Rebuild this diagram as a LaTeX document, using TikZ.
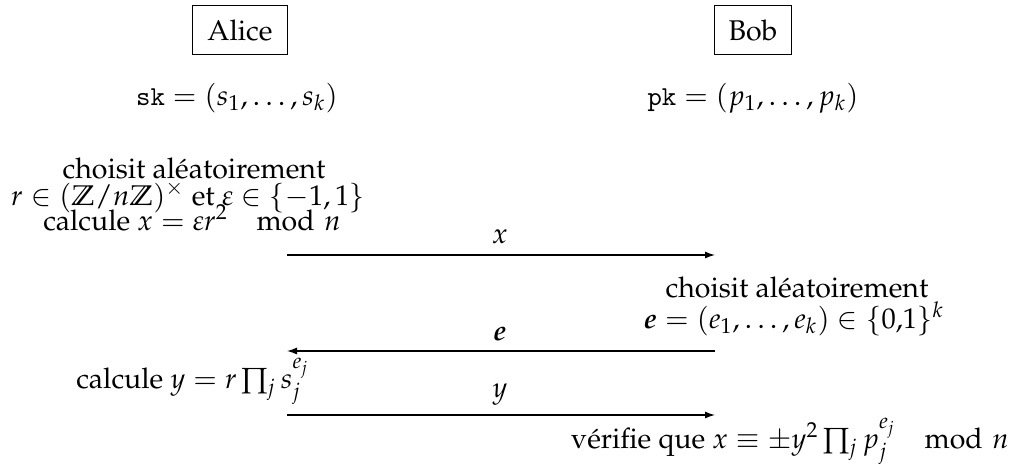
\documentclass[tikz,border=0pt]{standalone}
\usepackage[T1]{fontenc}
\usepackage{mathpazo}
\usepackage{amsmath,amssymb,bm}
\usetikzlibrary{arrows.meta}
\newcommand{\mymod}[1]{\mkern18mu\mathrm{mod}\,\,#1}
\tikzset{
  every node/.style={font=\fontsize{11.4}{13.7}\selectfont},
  party/.style={draw, inner xsep=5.8pt, inner ysep=5.6pt},
  lbl/.style={inner sep=0pt, anchor=base},
  msg/.style={line width=0.5pt, -{Latex[length=4pt,width=2.8pt]}}
}
\begin{document}
\begin{tikzpicture}[x=0.4pt,y=-0.4pt]
\useasboundingbox (0,0) rectangle (1013,468);
\node[party] (alice) at (240,30) {Alice};
\node[party] (bob) at (753,30) {Bob};
\node[lbl] (sk) at (237,105) {$\mathtt{sk}=(s_1,\dots,s_k)$};
\node[lbl] (pk) at (753,105) {$\mathtt{pk}=(p_1,\dots,p_k)$};
\node[lbl] (a1) at (194,178) {choisit al\'eatoirement};
\node[lbl] (a2) at (188,205) {$r\in(\mathbb{Z}/n\mathbb{Z})^\times$ et $\varepsilon\in\{-1,1\}$};
\node[lbl] (a3) at (192,230) {calcule $x=\varepsilon r^2 \mymod{n}$};
\node[lbl] (xl) at (500,243) {$x$};
\node[lbl] (b1) at (797,297) {choisit al\'eatoirement};
\node[lbl] (b2) at (794,328) {$\bm{e}=(e_1,\dots,e_k)\in\{0{,}1\}^k$};
\node[lbl] (el) at (500,340) {$\bm{e}$};
\node[lbl] (a4) at (193,388) {calcule $y=r\prod_j s_j^{e_j}$};
\node[lbl] (yl) at (500,397) {$y$};
\node[lbl] (b3) at (790,448) {v\'erifie que $x\equiv\pm y^2\prod_j p_j^{e_j} \mymod{n}$};
\coordinate (ax) at (287,255);
\coordinate (bx) at (715,255);
\coordinate (ae) at (287,351);
\coordinate (be) at (715,351);
\coordinate (ay) at (287,415);
\coordinate (by) at (715,415);
\draw[msg] (ax) -- (bx);
\draw[msg] (be) -- (ae);
\draw[msg] (ay) -- (by);
\end{tikzpicture}
\end{document}
